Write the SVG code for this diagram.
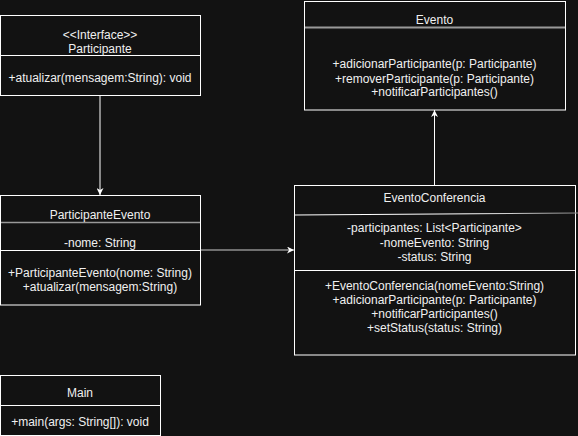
<svg xmlns="http://www.w3.org/2000/svg" width="578" height="436" viewBox="0 0 578 436">
<style>
.box{fill:#121212;stroke:#ffffff;stroke-width:1}
.div{stroke:#ffffff;stroke-width:1}
.gdiv{stroke:#999999;stroke-width:2}
text{font-family:"Liberation Sans",Arial,sans-serif;font-size:12px;fill:#f0f0f0;text-anchor:middle;dominant-baseline:central}
.conn{stroke:#ffffff;stroke-width:1;fill:none}
</style>
<defs>
<marker id="arr" viewBox="0 0 10 10" refX="10" refY="5" markerWidth="7" markerHeight="7" orient="auto" markerUnits="userSpaceOnUse">
<path d="M0,0 L10,5 L0,10 L3,5 Z" fill="#ffffff"/>
</marker>
<linearGradient id="fade" x1="0" y1="0" x2="1" y2="0">
<stop offset="0" stop-color="#ffffff"/>
<stop offset="0.6" stop-color="#ffffff"/>
<stop offset="1" stop-color="#888888"/>
</linearGradient>
</defs>
<rect width="578" height="436" fill="#121212"/>

<g id="connectors">
<line class="conn" x1="100" y1="95" x2="100" y2="195" marker-end="url(#arr)"/>
<line class="conn" x1="434.5" y1="185" x2="434.5" y2="110" marker-end="url(#arr)"/>
<line x1="200" y1="250" x2="294" y2="250" stroke="#cccccc" stroke-width="1.2" marker-end="url(#arr)"/>
</g>

<g id="participante">
<rect class="box" x="0.5" y="15.5" width="200" height="80"/>
<line class="div" x1="0.5" y1="55.5" x2="200.5" y2="55.5"/>
<text x="100" y="34.5">&lt;&lt;Interface&gt;&gt;</text>
<text x="100" y="48.5">Participante</text>
<text x="100" y="78">+atualizar(mensagem:String): void</text>
</g>

<g id="evento">
<rect class="box" x="304.5" y="1.5" width="261" height="108.5"/>
<line class="gdiv" x1="305" y1="27.5" x2="565" y2="27.5"/>
<text x="434.5" y="19.5">Evento</text>
<text x="434.5" y="64.3">+adicionarParticipante(p: Participante)</text>
<text x="434.5" y="78.7">+removerParticipante(p: Participante)</text>
<text x="434.5" y="92.3">+notificarParticipantes()</text>
</g>

<g id="participanteEvento">
<rect class="box" x="0.5" y="195.5" width="200" height="109.5"/>
<line x1="1" y1="222.5" x2="200" y2="222.5" stroke="#999999" stroke-width="1.5"/>
<line class="div" x1="0.5" y1="250.5" x2="200.5" y2="250.5"/>
<text x="100" y="214.5">ParticipanteEvento</text>
<text x="100" y="243">-nome: String</text>
<text x="100" y="273">+ParticipanteEvento(nome: String)</text>
<text x="100" y="287">+atualizar(mensagem:String)</text>
</g>

<g id="eventoConferencia">
<rect class="box" x="294.5" y="185.5" width="281" height="169.5"/>
<line x1="294.5" y1="215" x2="578" y2="213" stroke="url(#fade)" stroke-width="1.2"/>
<line class="div" x1="294.5" y1="270.5" x2="575.5" y2="270.5"/>
<text x="434.5" y="198.3">EventoConferencia</text>
<text x="434.5" y="228.3">-participantes: List&lt;Participante&gt;</text>
<text x="434.5" y="242.7">-nomeEvento: String</text>
<text x="434.5" y="256.7">-status: String</text>
<text x="434.5" y="286">+EventoConferencia(nomeEvento:String)</text>
<text x="434.5" y="299.5">+adicionarParticipante(p: Participante)</text>
<text x="434.5" y="314">+notificarParticipantes()</text>
<text x="434.5" y="328">+setStatus(status: String)</text>
</g>

<g id="main">
<rect class="box" x="0.5" y="375.5" width="160" height="60"/>
<line class="div" x1="0.5" y1="405.5" x2="160.5" y2="405.5"/>
<text x="80" y="392.7">Main</text>
<text x="80" y="421.7">+main(args: String[]): void</text>
</g>
</svg>
